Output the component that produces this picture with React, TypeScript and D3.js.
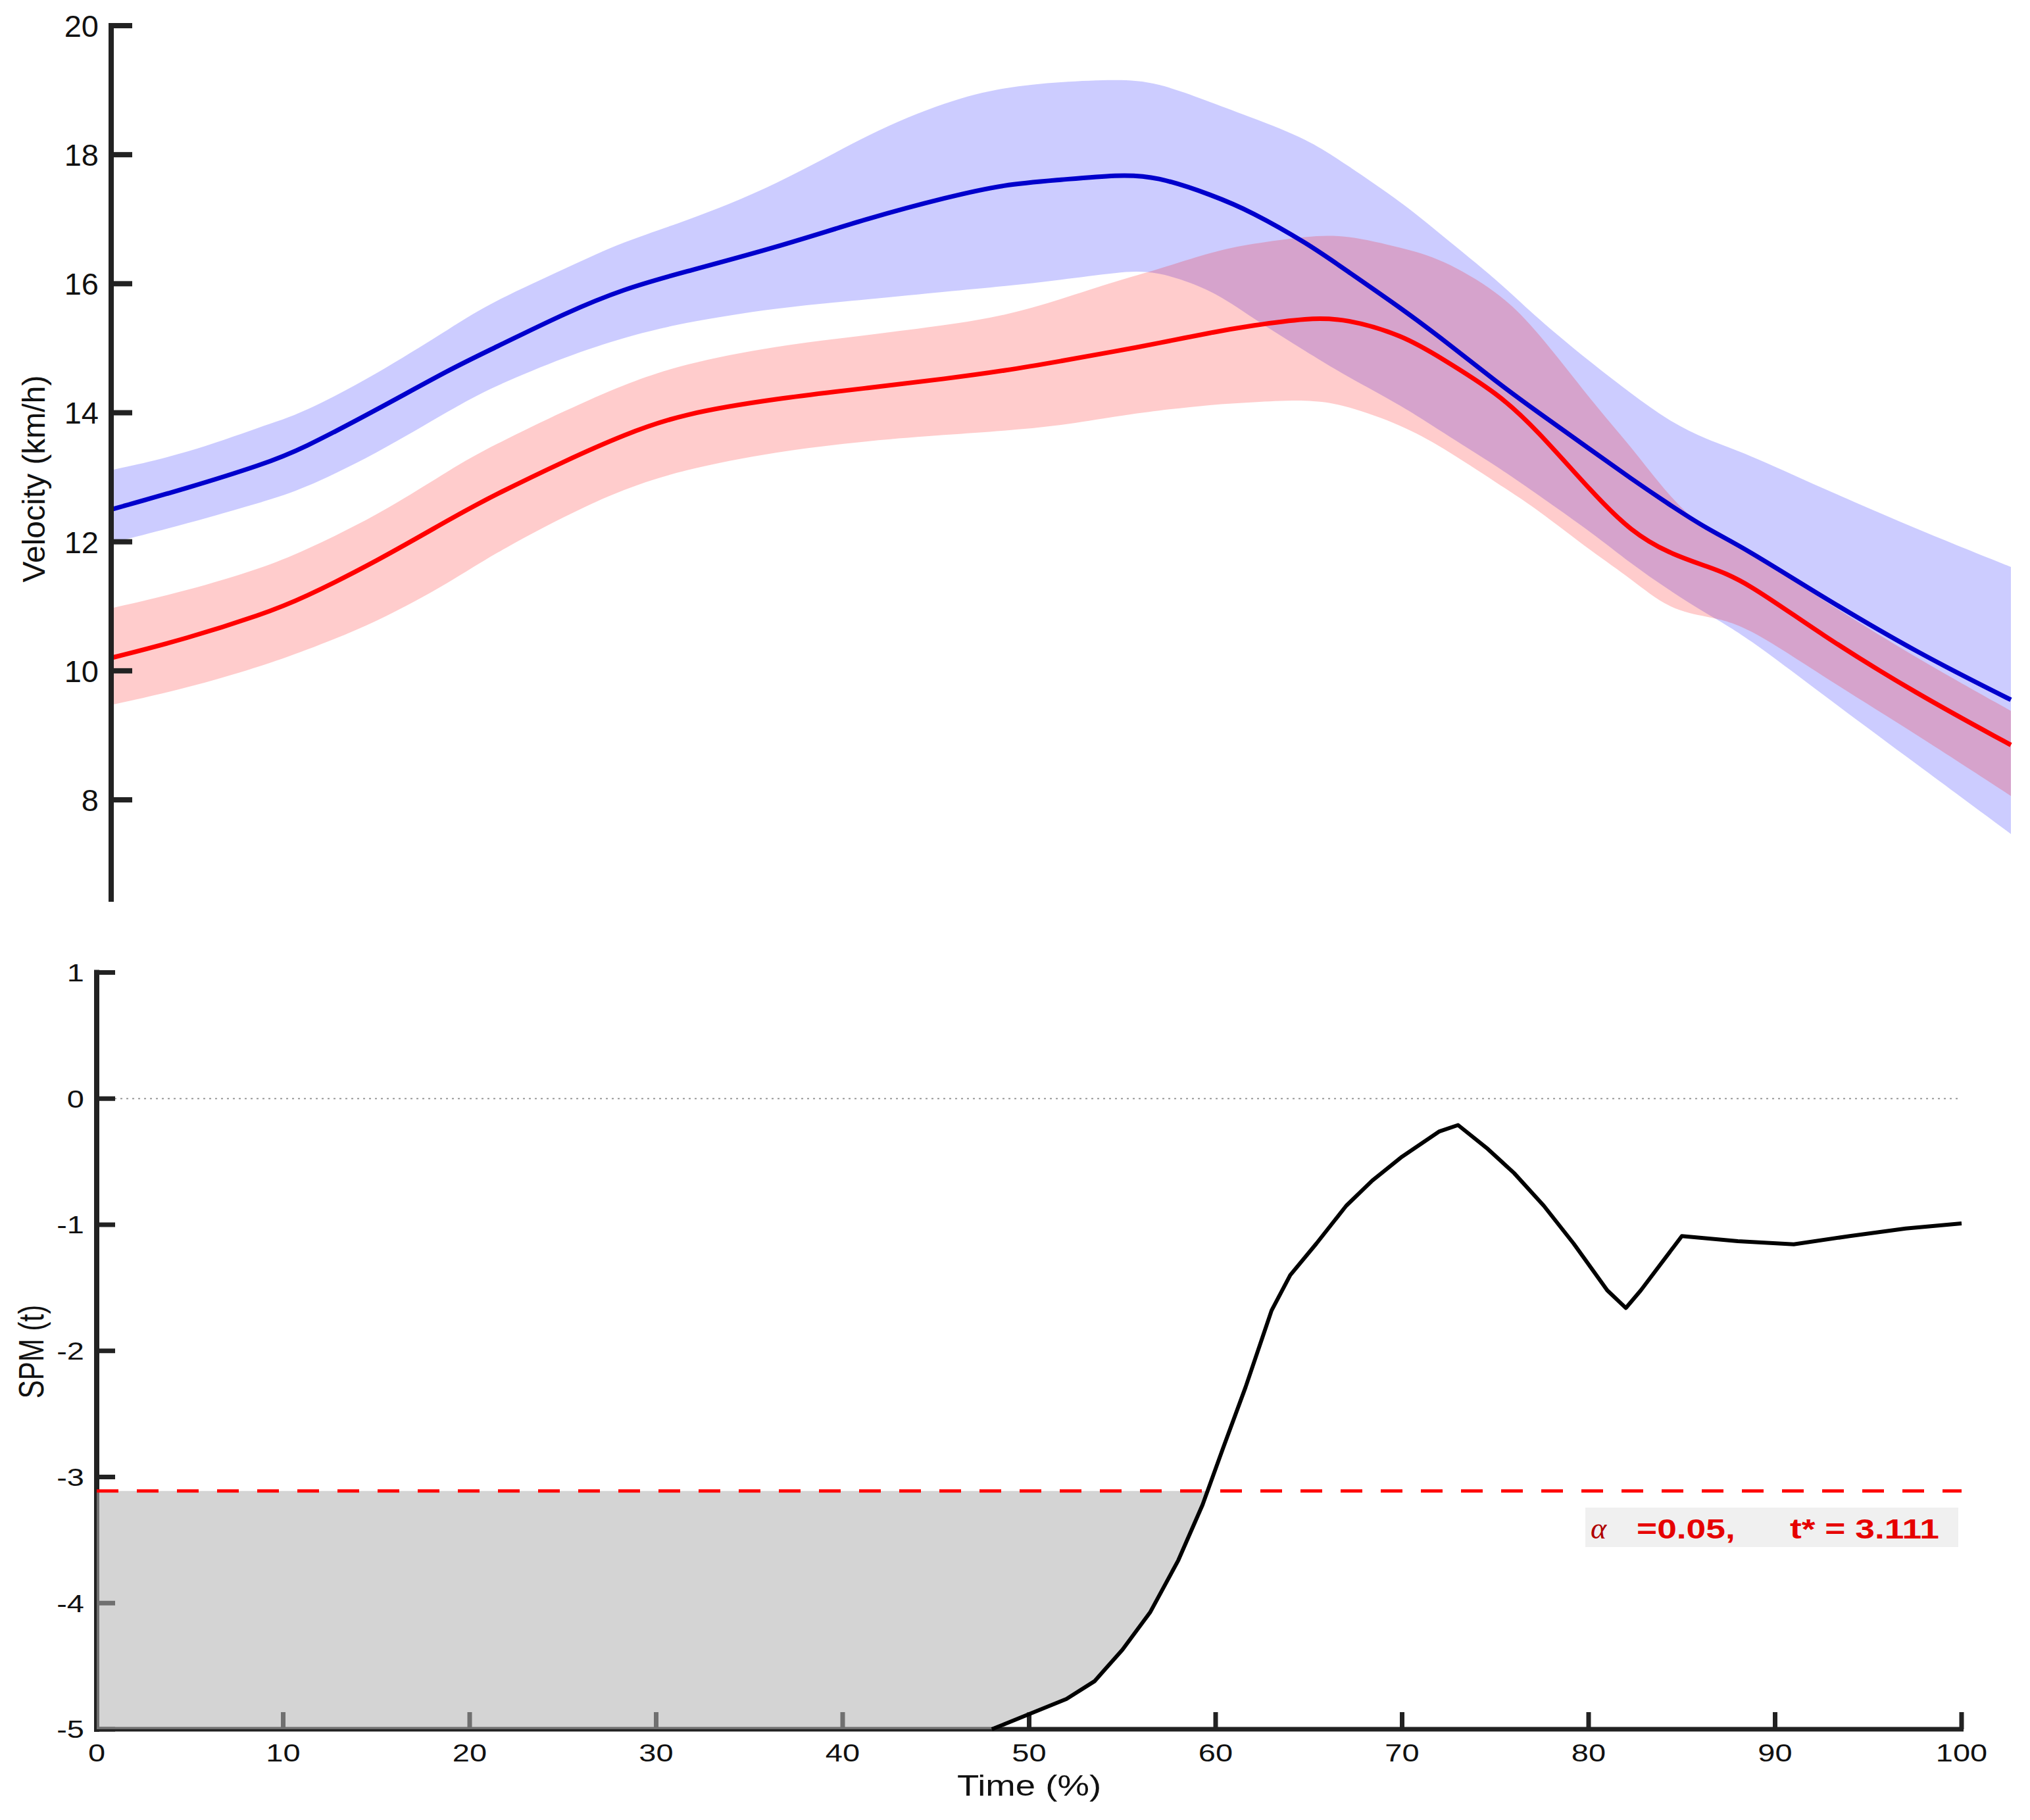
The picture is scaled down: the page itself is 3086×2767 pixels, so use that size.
import React from 'react';
import * as d3 from 'd3';

// Top panel: mean velocity and SD bands for the two groups
const velTime = [0, 4, 8, 10, 14, 18, 20, 24, 27, 30, 35, 40, 44, 47, 50, 53, 55, 58, 60, 63, 65, 68, 70, 73, 75, 78, 80, 82, 84, 86, 90, 95, 100];

const blueMean = [12.5, 12.83, 13.2, 13.43, 14.05, 14.7, 14.98, 15.56, 15.92, 16.17, 16.56, 17.03, 17.34, 17.54, 17.61, 17.69, 17.67, 17.37, 17.12, 16.62, 16.21, 15.6, 15.16, 14.46, 14.03, 13.4, 12.98, 12.58, 12.2, 11.9, 11.16, 10.29, 9.55];
const blueUpper = [13.11, 13.37, 13.8, 13.98, 14.6, 15.34, 15.71, 16.25, 16.66, 16.94, 17.52, 18.35, 18.83, 19.05, 19.13, 19.17, 19.13, 18.8, 18.58, 18.24, 17.85, 17.25, 16.76, 16.05, 15.48, 14.75, 14.3, 13.87, 13.58, 13.38, 12.84, 12.2, 11.61];
const blueLower = [11.98, 12.28, 12.62, 12.8, 13.37, 14.07, 14.39, 14.88, 15.17, 15.39, 15.63, 15.76, 15.88, 15.96, 16.06, 16.18, 16.21, 15.9, 15.48, 14.93, 14.57, 14.1, 13.71, 13.16, 12.75, 12.13, 11.66, 11.25, 10.88, 10.55, 9.65, 8.56, 7.47];

const redMean = [10.2, 10.5, 10.88, 11.11, 11.7, 12.38, 12.7, 13.27, 13.66, 13.98, 14.22, 14.39, 14.53, 14.65, 14.8, 14.96, 15.07, 15.25, 15.35, 15.47, 15.46, 15.2, 14.85, 14.3, 13.75, 12.75, 12.16, 11.82, 11.62, 11.4, 10.56, 9.65, 8.85];
const redUpper = [10.97, 11.24, 11.6, 11.84, 12.4, 13.15, 13.48, 14.05, 14.44, 14.75, 15.04, 15.21, 15.36, 15.5, 15.76, 16.05, 16.21, 16.5, 16.62, 16.74, 16.76, 16.55, 16.39, 15.88, 15.3, 14.15, 13.48, 12.7, 12.15, 11.9, 11.11, 10.2, 9.38];
const redLower = [9.47, 9.73, 10.08, 10.29, 10.75, 11.4, 11.79, 12.42, 12.82, 13.11, 13.4, 13.57, 13.66, 13.72, 13.8, 13.95, 14.03, 14.13, 14.16, 14.21, 14.12, 13.8, 13.48, 12.9, 12.52, 11.83, 11.43, 10.95, 10.84, 10.72, 9.93, 9.02, 8.06];

const velTicks = [8, 10, 12, 14, 16, 18, 20];

// Bottom panel: SPM{t} trajectory (only the visible part, below -5 is off-axis)
const spmTime = [48, 50, 52, 53.5, 55, 56.5, 58, 59.3, 60.4, 61.6, 63, 64, 65.4, 67, 68.4, 70, 72, 73, 74.6, 76, 77.6, 79.2, 81, 82, 82.8, 85, 88, 91, 94, 97, 100];
const spmValue = [-5, -4.88, -4.76, -4.62, -4.37, -4.07, -3.66, -3.22, -2.77, -2.29, -1.68, -1.4, -1.15, -0.85, -0.65, -0.46, -0.26, -0.21, -0.4, -0.59, -0.85, -1.15, -1.52, -1.66, -1.52, -1.09, -1.13, -1.155, -1.09, -1.03, -0.99];

const spmTicks = [-5, -4, -3, -2, -1, 0, 1];
const timeTicks = [0, 10, 20, 30, 40, 50, 60, 70, 80, 90, 100];
const criticalT = 3.111;
const alphaLevel = 0.05;

const W = 3086;
const H = 2767;
const AXIS = '#222222';
const FONT = '"Liberation Sans", Arial, Helvetica, sans-serif';

type Pt = { t: number; v: number };
type Band = { t: number; lo: number; hi: number };

const App: React.FC = () => {
  // top panel scales
  const xTop = d3.scaleLinear().domain([0, 100]).range([169, 3057]);
  const yTop = d3.scaleLinear().domain([6.42, 20]).range([1371, 39]);

  // bottom panel scales
  const xBot = d3.scaleLinear().domain([0, 100]).range([147, 2982]);
  const yBot = d3.scaleLinear().domain([-5, 1]).range([2629, 1478.5]);

  const band = (lo: number[], hi: number[]): Band[] => velTime.map((t, i) => ({ t, lo: lo[i], hi: hi[i] }));
  const series = (vals: number[]): Pt[] => velTime.map((t, i) => ({ t, v: vals[i] }));

  const bandArea = d3.area<Band>()
    .x(d => xTop(d.t))
    .y0(d => yTop(d.lo))
    .y1(d => yTop(d.hi))
    .curve(d3.curveBasis);

  const meanLine = d3.line<Pt>()
    .x(d => xTop(d.t))
    .y(d => yTop(d.v))
    .curve(d3.curveBasis);

  const spm: Pt[] = spmTime.map((t, i) => ({ t, v: spmValue[i] }));
  const spmLine = d3.line<Pt>()
    .x(d => xBot(d.t))
    .y(d => yBot(d.v))
    .curve(d3.curveLinear);

  // supra-threshold cluster: between curve (clamped at the axis floor) and -t*
  const thr = -criticalT;
  let crossT = spmTime[0];
  for (let i = 1; i < spm.length; i++) {
    if (spm[i - 1].v <= thr && spm[i].v > thr) {
      const f = (thr - spm[i - 1].v) / (spm[i].v - spm[i - 1].v);
      crossT = spm[i - 1].t + f * (spm[i].t - spm[i - 1].t);
      break;
    }
  }
  const clusterPts: Pt[] = [
    { t: 0, v: yBot.domain()[0] },
    ...spm.filter(d => d.t < crossT),
    { t: crossT, v: thr },
  ];
  const clusterArea = d3.area<Pt>()
    .x(d => xBot(d.t))
    .y0(yBot(thr))
    .y1(d => yBot(d.v))
    .curve(d3.curveLinear);

  const fmt = (v: number) => String(v); // MATLAB-style short hyphen
  const sx = 1.27; // bottom panel text is stretched horizontally

  return (
    <svg width={W} height={H} viewBox={`0 0 ${W} ${H}`}
      style={{ position: 'absolute', left: 0, top: 0, background: '#fff' }}
      fontFamily={FONT}>
      <rect width={W} height={H} fill="#fff" />

      {/* ---------- top panel ---------- */}
      <path d={bandArea(band(blueLower, blueUpper)) || ''} fill="#0000ff" fillOpacity={0.2} />
      <path d={bandArea(band(redLower, redUpper)) || ''} fill="#ff0000" fillOpacity={0.2} />
      <path d={meanLine(series(blueMean)) || ''} fill="none" stroke="#0000cc" strokeWidth={7} />
      <path d={meanLine(series(redMean)) || ''} fill="none" stroke="#ff0000" strokeWidth={7} />

      <line x1={xTop(0)} x2={xTop(0)} y1={yTop(20) - 4} y2={yTop.range()[0]} stroke={AXIS} strokeWidth={8} />
      {velTicks.map(v => (
        <g key={v}>
          <line x1={xTop(0)} x2={xTop(0) + 32} y1={yTop(v)} y2={yTop(v)} stroke={AXIS} strokeWidth={8} />
          <text x={150} y={yTop(v)} dy="0.36em" textAnchor="end" fontSize={47} fill="#111">{v}</text>
        </g>
      ))}
      <text transform={`translate(68,728) rotate(-90)`} textAnchor="middle" fontSize={48} fill="#111">
        Velocity (km/h)
      </text>

      {/* ---------- bottom panel ---------- */}
      <line x1={xBot(0)} x2={xBot(100)} y1={yBot(0)} y2={yBot(0)} stroke="#9a9a9a" strokeWidth={2} strokeDasharray="3 6" />

      {/* axes */}
      <line x1={xBot(0)} x2={xBot(0)} y1={yBot(1) - 4} y2={yBot(-5) + 4} stroke={AXIS} strokeWidth={8} />
      <line x1={xBot(0)} x2={xBot(100) + 3} y1={yBot(-5)} y2={yBot(-5)} stroke={AXIS} strokeWidth={7} />
      {spmTicks.map(v => (
        <g key={v}>
          <line x1={xBot(0)} x2={xBot(0) + 28} y1={yBot(v)} y2={yBot(v)} stroke={AXIS} strokeWidth={7} />
          <text transform={`translate(128,${yBot(v)}) scale(${sx},1)`} dy="0.36em" textAnchor="end" fontSize={37} fill="#111">
            {fmt(v)}
          </text>
        </g>
      ))}
      {timeTicks.map(t => (
        <g key={t}>
          <line x1={xBot(t)} x2={xBot(t)} y1={yBot(-5)} y2={yBot(-5) - 26} stroke={AXIS} strokeWidth={7} />
          <text transform={`translate(${xBot(t)},2678) scale(${sx},1)`} textAnchor="middle" fontSize={37} fill="#111">
            {t}
          </text>
        </g>
      ))}
      <text transform={`translate(${xBot(50)},2730) scale(1.24,1)`} textAnchor="middle" fontSize={44} fill="#111">
        Time (%)
      </text>
      <text transform={`translate(66,2055) scale(1.26,1) rotate(-90)`} textAnchor="middle" fontSize={42} fill="#111">
        SPM (t)
      </text>

      {/* cluster patch drawn over the axes */}
      <path d={clusterArea(clusterPts) || ''} fill="#b0b0b0" fillOpacity={0.55} />

      {/* threshold */}
      <line x1={xBot(0)} x2={xBot(100)} y1={yBot(thr)} y2={yBot(thr)} stroke="#ff0000" strokeWidth={5} strokeDasharray="33 28" />

      {/* SPM trajectory */}
      <path d={spmLine(spm) || ''} fill="none" stroke="#000" strokeWidth={6} strokeLinejoin="round" />

      {/* threshold label */}
      <rect x={2410} y={2292} width={567} height={60} fill="#f0f0f0" />
      <text x={2418} y={2339} fontFamily='"Liberation Serif", "DejaVu Serif", serif' fontStyle="italic" fontSize={46} fill="#b00000">
        α
      </text>
      <text transform={`translate(2488,2339) scale(${sx},1)`} fontSize={42} fontWeight="bold" fill="#e60000">
        ={alphaLevel.toFixed(2)},
      </text>
      <text transform={`translate(2721,2339) scale(${sx},1)`} fontSize={42} fontWeight="bold" fill="#e60000">
        t* = {criticalT.toFixed(3)}
      </text>
    </svg>
  );
};

export default App;
